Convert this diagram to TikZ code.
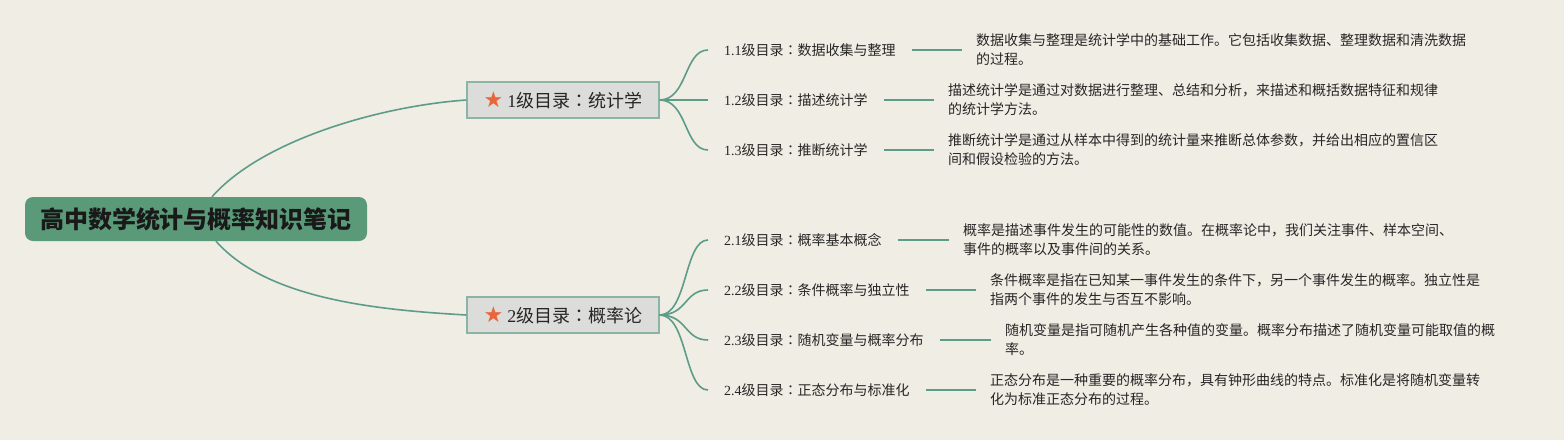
\documentclass[tikz,border=0pt]{standalone}
\usepackage{fontspec}
\setmainfont{Liberation Serif}
\newfontfamily\cjk{Noto Sans CJK SC}
\newfontfamily\cjkcol{Noto Sans CJK TC}
\newfontfamily\sym{DejaVu Sans}
\definecolor{bgbeige}{HTML}{F0EDE4}
\definecolor{rootgreen}{HTML}{5A9A78}
\definecolor{linkgreen}{HTML}{5E9C8A}
\definecolor{topicgray}{HTML}{DCDCDA}
\definecolor{topicborder}{HTML}{8CB4A6}
\definecolor{starorange}{HTML}{E8663A}
\tikzset{
	rootbox/.style={fill=rootgreen, rounded corners=8pt, minimum width=342pt, minimum height=44pt, inner sep=0pt, font=\cjk\bfseries\fontsize{24}{28}\selectfont, text=black!90},
	topicbox/.style={draw=topicborder, fill=topicgray, line width=1.2pt, minimum width=192pt, minimum height=36pt, inner sep=0pt, font=\fontsize{18}{22}\selectfont, text=black!85},
	sublabel/.style={anchor=west, inner sep=0pt, font=\fontsize{14}{18}\selectfont, text=black!85},
	notetext/.style={anchor=west, inner sep=0pt, align=left, font=\cjk\fontsize{14}{19}\selectfont, text=black!85},
	link/.style={draw=linkgreen, line width=1.6pt},
}
\newcommand{\starmark}{{\sym\fontsize{22}{22}\selectfont\color{starorange}★}\hspace{4pt}}
\newcommand{\colmark}{{\cjkcol ：}}
\begin{document}
\begin{tikzpicture}[x=1pt, y=-1pt]
	\fill[bgbeige] (0,0) rectangle (1564,440);
	\useasboundingbox (0,0) rectangle (1564,440);
	% root and first level
	\node[rootbox] (root) at (196,219) {高中数学统计与概率知识笔记};
	\node[topicbox] (stat) at (563,100) {\starmark 1\cjk 级目录\colmark 统计学};
	\node[topicbox] (prob) at (563,315) {\starmark 2\cjk 级目录\colmark 概率论};
	\draw[link] ([xshift=16pt]root.north) .. controls (262,140) and (380,106) .. (stat.west);
	\draw[link] ([xshift=20pt]root.south) .. controls (268,300) and (380,310) .. (prob.west);
	% second level, statistics
	\node[sublabel] (s1) at (724,50) {1.1\cjk 级目录\colmark 数据收集与整理};
	\node[sublabel] (s2) at (724,100) {1.2\cjk 级目录\colmark 描述统计学};
	\node[sublabel] (s3) at (724,150) {1.3\cjk 级目录\colmark 推断统计学};
	\node[notetext] (n1) at (976,50) {数据收集与整理是统计学中的基础工作。它包括收集数据、整理数据和清洗数据\\的过程。};
	\node[notetext] (n2) at (948,100) {描述统计学是通过对数据进行整理、总结和分析，来描述和概括数据特征和规律\\的统计学方法。};
	\node[notetext] (n3) at (948,150) {推断统计学是通过从样本中得到的统计量来推断总体参数，并给出相应的置信区\\间和假设检验的方法。};
	\foreach \s/\n in {s1/n1, s2/n2, s3/n3} {
		\draw[link] (stat.east) .. controls +(28,0) and +(-24,0) .. ([xshift=-16pt]\s.west);
		\draw[link] ([xshift=16pt]\s.east) -- ([xshift=-14pt]\n.west);
	}
	% second level, probability
	\node[sublabel] (p1) at (724,240) {2.1\cjk 级目录\colmark 概率基本概念};
	\node[sublabel] (p2) at (724,290) {2.2\cjk 级目录\colmark 条件概率与独立性};
	\node[sublabel] (p3) at (724,340) {2.3\cjk 级目录\colmark 随机变量与概率分布};
	\node[sublabel] (p4) at (724,390) {2.4\cjk 级目录\colmark 正态分布与标准化};
	\node[notetext] (m1) at (963,240) {概率是描述事件发生的可能性的数值。在概率论中，我们关注事件、样本空间、\\事件的概率以及事件间的关系。};
	\node[notetext] (m2) at (990,290) {条件概率是指在已知某一事件发生的条件下，另一个事件发生的概率。独立性是\\指两个事件的发生与否互不影响。};
	\node[notetext] (m3) at (1005,340) {随机变量是指可随机产生各种值的变量。概率分布描述了随机变量可能取值的概\\率。};
	\node[notetext] (m4) at (990,390) {正态分布是一种重要的概率分布，具有钟形曲线的特点。标准化是将随机变量转\\化为标准正态分布的过程。};
	\foreach \p/\m in {p1/m1, p2/m2, p3/m3, p4/m4} {
		\draw[link] (prob.east) .. controls +(28,0) and +(-24,0) .. ([xshift=-16pt]\p.west);
		\draw[link] ([xshift=16pt]\p.east) -- ([xshift=-14pt]\m.west);
	}
\end{tikzpicture}
\end{document}
